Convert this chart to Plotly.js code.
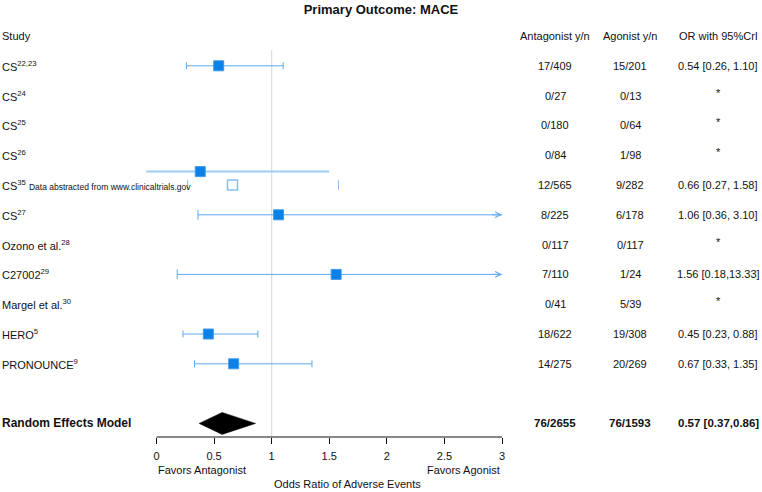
<!DOCTYPE html>
<html><head><meta charset="utf-8">
<script src="https://cdn.plot.ly/plotly-3.0.1.min.js"></script>
<style>html,body{margin:0;padding:0;background:#fff}#chart{width:762px;height:492px}</style>
</head><body><div id="chart"></div>
<script>
// ---------- data ----------
const studyLabels = ['CS<sup>22,23</sup>', 'CS<sup>24</sup>', 'CS<sup>25</sup>', 'CS<sup>26</sup>',
  'CS<sup>35</sup> <span style="font-size:8.5px">Data abstracted from www.clinicaltrials.gov</span>',
  'CS<sup>27</sup>', 'Ozono et al.<sup>28</sup>', 'C27002<sup>29</sup>', 'Margel et al.<sup>30</sup>',
  'HERO<sup>5</sup>', 'PRONOUNCE<sup>9</sup>'];
const studyRows = [1, 2, 3, 4, 5, 6, 7, 8, 9, 10, 11];
const antagonistYN = ['17/409', '0/27', '0/180', '0/84', '12/565', '8/225', '0/117', '7/110', '0/41', '18/622', '14/275'];
const agonistYN = ['15/201', '0/13', '0/64', '1/98', '9/282', '6/178', '0/117', '1/24', '5/39', '19/308', '20/269'];
const orLabels = ['0.54 [0.26, 1.10]', '*', '*', '*', '0.66 [0.27, 1.58]', '1.06 [0.36, 3.10]', '*',
  '1.56 [0.18,13.33]', '*', '0.45 [0.23, 0.88]', '0.67 [0.33, 1.35]'];
const orEst  = [0.54, null, null, null, 0.66, 1.06, null, 1.56, null, 0.45, 0.67];
const orLow  = [0.26, null, null, null, 0.27, 0.36, null, 0.18, null, 0.23, 0.33];
const orHigh = [1.10, null, null, null, 1.58, 3.10, null, 13.33, null, 0.88, 1.35];
const markerStyle = ['filled', '', '', '', 'open', 'filled', '', 'filled', '', 'filled', 'filled'];

// extra estimate drawn above the CS35 row
const altRow  = [4.55];
const altEst  = [0.38];
const altLow  = [-0.09];
const altHigh = [1.50];

// pooled estimate
const pooledLabel = 'Random Effects Model';
const pooledRow = 13;
const pooledAntagonist = '76/2655';
const pooledAgonist = '76/1593';
const pooledOR = '0.57 [0.37,0.86]';
const pooledEst = 0.57, pooledLow = 0.37, pooledHigh = 0.86;

const headerLabels = ['Study', 'Antagonist y/n', 'Agonist y/n', 'OR with 95%CrI'];
const xTickVals = [0, 0.5, 1, 1.5, 2, 2.5, 3];
const xTickText = ['0', '0.5', '1', '1.5', '2', '2.5', '3'];

// ---------- styling / layout constants ----------
const FONT = 'Liberation Sans, Arial, Helvetica, sans-serif';
const X_MIN = 0, X_MAX = 3;
const W = 762, H = 492;
const PX0 = 156.5, PX3 = 502;               // pixel positions of x=0 and x=3
const pxPerUnit = (PX3 - PX0) / (X_MAX - X_MIN);
const xRange = [-0.15, 3.1];
const xDomain = [(PX0 + xRange[0] * pxPerUnit) / W, (PX0 + xRange[1] * pxPerUnit) / W];
const AXIS_PX = 437, ROW0_PX = 36, ROW_PX = 29.8;
const yTop = (0 - ROW0_PX) / ROW_PX, yBottom = (AXIS_PX - ROW0_PX) / ROW_PX;
const yDomainBottom = 1 - AXIS_PX / H;

const MARKER = '#0a80e8', MARKER_LINE = '#3f9aea', CI = '#5fa9ec', LIGHT = '#9dcdf3', OPEN = '#86c0f0';
const COL_X = { antag: 555 / W, agon: 630 / W, or: 718 / W };

// ---------- classify rows ----------
const errIdx = [], arrowIdx = [], openIdx = [];
orEst.forEach((v, i) => {
  if (v == null) return;
  if (markerStyle[i] === 'open') openIdx.push(i);
  else if (orHigh[i] > X_MAX) arrowIdx.push(i);
  else errIdx.push(i);
});

const traces = [];
// extra (thick light) interval
altRow.forEach((r, k) => traces.push({
  x: [altLow[k], altHigh[k]], y: [r, r], mode: 'lines', type: 'scatter',
  line: { color: LIGHT, width: 2 }, hoverinfo: 'skip', showlegend: false
}));
// arrow row lines
const arrX = [], arrY = [];
arrowIdx.forEach(i => { arrX.push(orLow[i], X_MAX, null); arrY.push(studyRows[i], studyRows[i], null); });
traces.push({ x: arrX, y: arrY, mode: 'lines', type: 'scatter', line: { color: CI, width: 1 }, hoverinfo: 'skip', showlegend: false });
// caps
const capX = [], capY = [], capC = [];
arrowIdx.forEach(i => { capX.push(orLow[i]); capY.push(studyRows[i]); capC.push(CI); });
openIdx.forEach(i => { capX.push(orLow[i], orHigh[i]); capY.push(studyRows[i], studyRows[i]); capC.push(OPEN, OPEN); });
traces.push({ x: capX, y: capY, mode: 'markers', type: 'scatter', hoverinfo: 'skip', showlegend: false,
  marker: { symbol: 'line-ns-open', size: 7, color: capC, line: { color: capC, width: 1 } } });
// error-bar rows (filled)
traces.push({
  x: errIdx.map(i => orEst[i]), y: errIdx.map(i => studyRows[i]), mode: 'markers', type: 'scatter',
  error_x: { type: 'data', symmetric: false, array: errIdx.map(i => orHigh[i] - orEst[i]),
    arrayminus: errIdx.map(i => orEst[i] - orLow[i]), color: CI, thickness: 1, width: 3.5 },
  marker: { symbol: 'square', size: 10, color: MARKER, line: { color: MARKER_LINE, width: 1 } },
  hoverinfo: 'skip', showlegend: false
});
// filled markers for arrow rows + alt estimate
traces.push({
  x: arrowIdx.map(i => orEst[i]).concat(altEst), y: arrowIdx.map(i => studyRows[i]).concat(altRow),
  mode: 'markers', type: 'scatter',
  marker: { symbol: 'square', size: 10, color: MARKER, line: { color: MARKER_LINE, width: 1 } },
  hoverinfo: 'skip', showlegend: false
});
// open markers
traces.push({
  x: openIdx.map(i => orEst[i]), y: openIdx.map(i => studyRows[i]), mode: 'markers', type: 'scatter',
  marker: { symbol: 'square-open', size: 10, color: OPEN, line: { color: OPEN, width: 1.5 } },
  hoverinfo: 'skip', showlegend: false
});
// diamond
const DH = 11 / ROW_PX;
traces.push({
  x: [pooledLow, pooledEst, pooledHigh, pooledEst, pooledLow],
  y: [pooledRow, pooledRow - DH, pooledRow, pooledRow + DH, pooledRow],
  mode: 'lines', type: 'scatter', fill: 'toself', fillcolor: '#000', line: { color: '#000', width: 0.5 },
  hoverinfo: 'skip', showlegend: false
});

// ---------- annotations ----------
const ann = [];
const txt = (text, x, y, xanchor, size, extra) => ann.push(Object.assign({
  text, x, y, xref: 'paper', yref: 'y', xanchor, yanchor: 'middle', showarrow: false,
  font: { family: FONT, size, color: '#111' }
}, extra || {}));
txt(headerLabels[0], 0, 0, 'left', 11);
txt(headerLabels[1], COL_X.antag, 0, 'center', 11);
txt(headerLabels[2], COL_X.agon, 0, 'center', 11);
txt(headerLabels[3], COL_X.or, 0, 'center', 11);
studyLabels.forEach((s, i) => {
  const r = studyRows[i];
  txt(s, 0, r, 'left', 11);
  txt(antagonistYN[i], COL_X.antag, r, 'center', 11);
  txt(agonistYN[i], COL_X.agon, r, 'center', 11);
  txt(orLabels[i], COL_X.or, orLabels[i] === '*' ? r - 0.1 : r, 'center', 11);
});
txt('<b>' + pooledLabel + '</b>', 0, pooledRow, 'left', 12);
txt('<b>' + pooledAntagonist + '</b>', COL_X.antag, pooledRow, 'center', 11.5);
txt('<b>' + pooledAgonist + '</b>', COL_X.agon, pooledRow, 'center', 11.5);
txt('<b>' + pooledOR + '</b>', COL_X.or, pooledRow, 'center', 11.5);
// arrow heads
arrowIdx.forEach(i => ann.push({
  x: X_MAX, y: studyRows[i], ax: X_MAX - 0.1, ay: studyRows[i], xref: 'x', yref: 'y', axref: 'x', ayref: 'y',
  text: '', showarrow: true, arrowhead: 5, arrowsize: 1.1, arrowwidth: 1, arrowcolor: CI, standoff: 0, startstandoff: 0
}));
// axis side labels
ann.push({ text: 'Favors Antagonist', x: X_MIN, y: 1 - 470 / H, xref: 'x', yref: 'paper', xanchor: 'left', yanchor: 'middle',
  showarrow: false, font: { family: FONT, size: 11, color: '#111' } });
ann.push({ text: 'Favors Agonist', x: X_MAX, y: 1 - 470 / H, xref: 'x', yref: 'paper', xanchor: 'right', yanchor: 'middle',
  showarrow: false, font: { family: FONT, size: 11, color: '#111' } });
ann.push({ text: 'Odds Ratio of Adverse Events', x: 1, y: 1 - 484 / H, xref: 'x', yref: 'paper', xanchor: 'left', yanchor: 'middle',
  showarrow: false, font: { family: FONT, size: 11, color: '#111' } });

const layout = {
  width: W, height: H, margin: { l: 0, r: 0, t: 0, b: 0 },
  paper_bgcolor: '#fff', plot_bgcolor: '#fff', showlegend: false,
  title: { text: '<b>Primary Outcome: MACE</b>', x: 0.5, xanchor: 'center', y: 1 - 9 / H, yanchor: 'middle',
    font: { family: FONT, size: 13, color: '#111' } },
  xaxis: { domain: xDomain, range: xRange, showgrid: false, zeroline: false, showline: false,
    tickmode: 'array', tickvals: xTickVals, ticktext: xTickText, ticks: 'outside', ticklen: 6,
    tickcolor: '#111', tickwidth: 1, ticklabelstandoff: 3, tickfont: { family: FONT, size: 11, color: '#111' }, fixedrange: true },
  yaxis: { domain: [yDomainBottom, 1], range: [yBottom, yTop], visible: false, showgrid: false, zeroline: false, fixedrange: true },
  shapes: [
    { type: 'line', xref: 'x', yref: 'y', x0: 1, x1: 1, y0: (50 - ROW0_PX) / ROW_PX, y1: yBottom,
      line: { color: '#dcdcdc', width: 1.2 }, layer: 'below' },
    { type: 'line', xref: 'x', yref: 'paper', x0: X_MIN, x1: X_MAX, y0: yDomainBottom, y1: yDomainBottom,
      line: { color: '#111', width: 1 } }
  ],
  annotations: ann
};
Plotly.newPlot('chart', traces, layout, { displayModeBar: false, staticPlot: true });
</script>
</body></html>
